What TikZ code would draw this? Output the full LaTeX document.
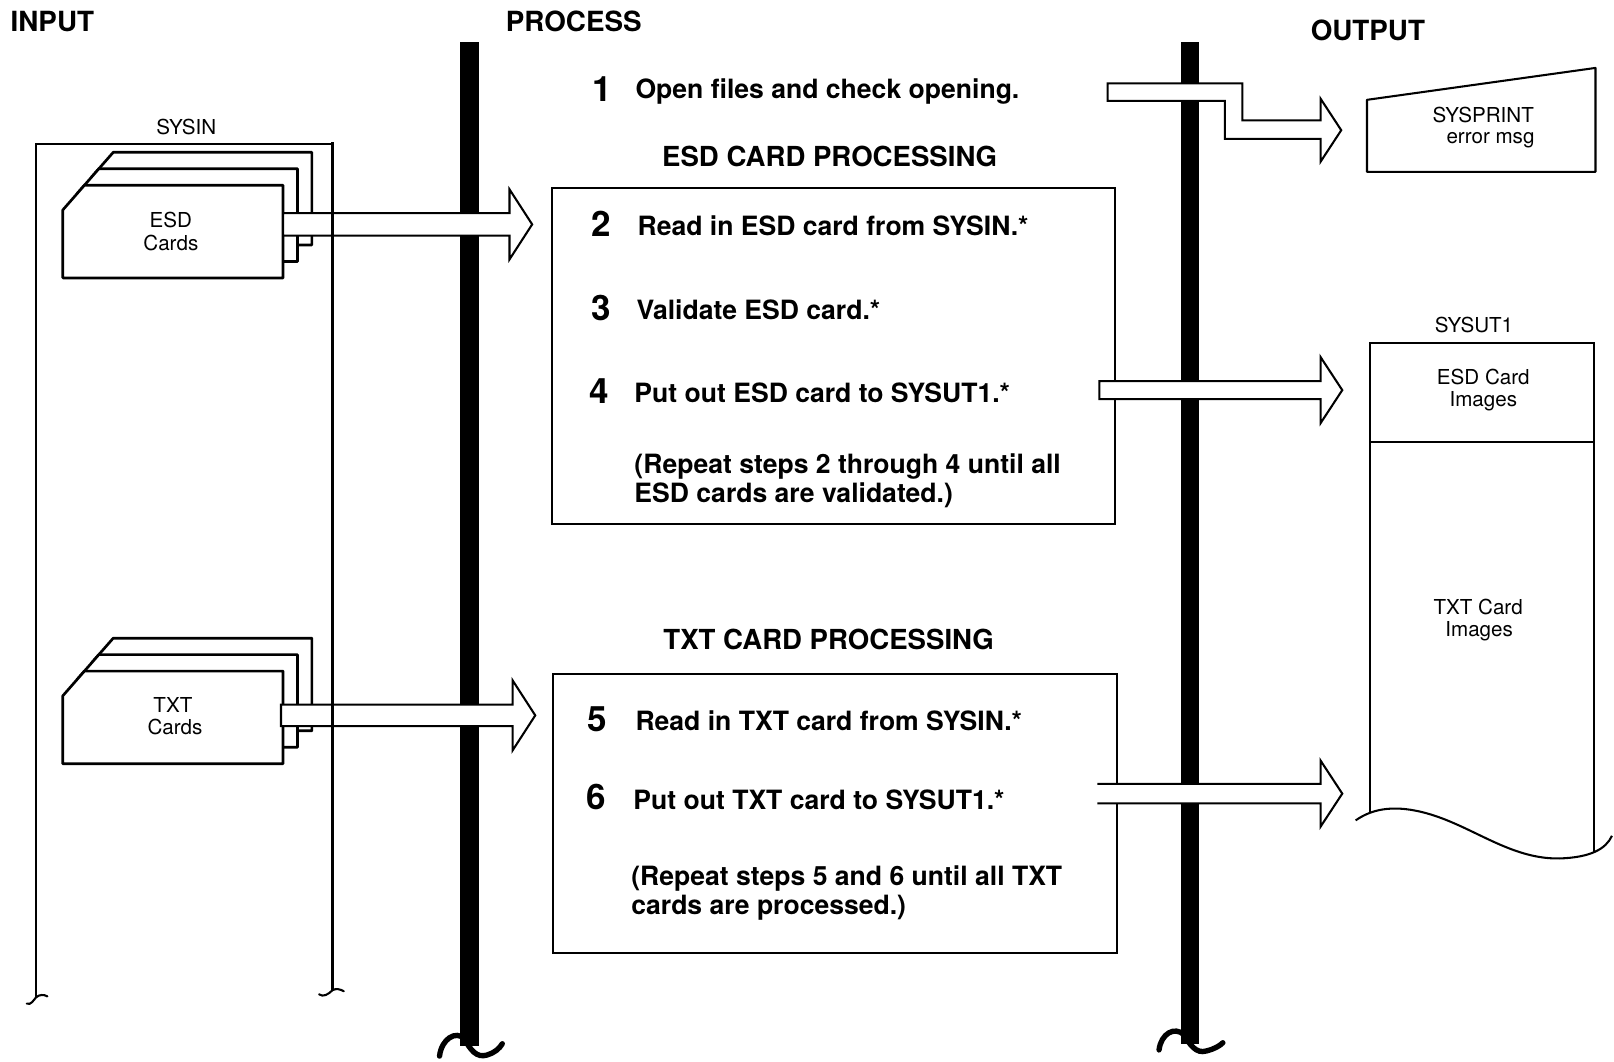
\documentclass[tikz,border=0pt]{standalone}
\usepackage{fontspec}
\setmainfont{TeX Gyre Heros}
\usetikzlibrary{calc}

% straight block arrow from a tail coordinate to a tip coordinate
% #3 body half-width, #4 head half-width, #5 head length
\newcommand\flowarrow[5]{%
  \path[flow] let \p1=(#1), \p2=(#2) in
    ({\x1},{\y2+#3}) -- ({\x2-#5},{\y2+#3}) -- ({\x2-#5},{\y2+#4}) -- (\x2,\y2)
    -- ({\x2-#5},{\y2-#4}) -- ({\x2-#5},{\y2-#3}) -- ({\x1},{\y2-#3}) -- cycle;}
% same arrow with an open tail
\newcommand\flowarrowopen[5]{%
  \fill[white] let \p1=(#1), \p2=(#2) in
    ({\x1},{\y2+#3}) -- ({\x2-#5},{\y2+#3}) -- ({\x2-#5},{\y2+#4}) -- (\x2,\y2)
    -- ({\x2-#5},{\y2-#4}) -- ({\x2-#5},{\y2-#3}) -- ({\x1},{\y2-#3}) -- cycle;
  \draw[flowline] let \p1=(#1), \p2=(#2) in
    ({\x1},{\y2+#3}) -- ({\x2-#5},{\y2+#3}) -- ({\x2-#5},{\y2+#4}) -- (\x2,\y2)
    -- ({\x2-#5},{\y2-#4}) -- ({\x2-#5},{\y2-#3}) -- ({\x1},{\y2-#3});}
% a punched card with a cut corner; #1,#2 = top-left of the card body
\newcommand\punchcard[2]{%
  \path[card] (#1,#2+24) -- (#1+21,#2) -- (#1+214,#2) -- (#1+214,#2+90)
    -- (#1,#2+90) -- cycle;}

\begin{document}
\begin{tikzpicture}[x=0.5pt,y=-0.5pt,
  thinline/.style={line width=1pt},
  bar/.style={line width=9pt},
  barend/.style={line width=2.6pt, line cap=round},
  heading/.style={font=\fontsize{13.5}{16}\selectfont\bfseries, anchor=base west, inner sep=0},
  section/.style={font=\fontsize{13.4}{16}\selectfont\bfseries, anchor=base, inner sep=0},
  steptext/.style={font=\fontsize{12.9}{15}\selectfont\bfseries, anchor=base west, inner sep=0},
  stepnum/.style={font=\fontsize{17}{20}\selectfont\bfseries, anchor=base, inner sep=0},
  lbl/.style={font=\fontsize{10}{12}\selectfont, anchor=base, inner sep=0},
  card/.style={line width=1.3pt, fill=white, draw=black, line join=round},
  flow/.style={line width=1pt, fill=white, draw=black, line join=miter},
  flowline/.style={line width=1pt, line join=miter},
]
\useasboundingbox (0,0) rectangle (1568,1031);

% column headings
\node[heading] (hin)  at (10,31)   {INPUT};
\node[heading] (hpro) at (491,31)  {PROCESS};
\node[heading] (hout) at (1273,39) {OUTPUT};

% the two heavy dividers
\draw[bar] (456,41) -- (456,1016);
\draw[barend] (427,1026) .. controls (429,1009) and (443,1001) .. (451,1009)
  .. controls (457,1020) and (463,1028) .. (473,1025)
  .. controls (480,1023) and (485,1019) .. (488,1014);
\draw[bar] (1156,41) -- (1156,1014);
\draw[barend] (1126,1020) .. controls (1128,1004) and (1141,997) .. (1150,1005)
  .. controls (1156,1015) and (1162,1024) .. (1172,1021)
  .. controls (1180,1019) and (1185,1016) .. (1188,1013);

% process boxes
\node[draw, thinline, minimum width=547*0.5pt, minimum height=326*0.5pt, anchor=north west, inner sep=0]
  (esdbox) at (535,182) {};
\node[draw, thinline, minimum width=548*0.5pt, minimum height=271*0.5pt, anchor=north west, inner sep=0]
  (txtbox) at (536,654) {};

% step 1
\node[stepnum]  (n1) at (585,99) {1};
\node[steptext] (t1) at (617,96) {Open files and check opening.};

% ESD section
\node[section] (hesd) at (806,162) {ESD CARD PROCESSING};
\node[stepnum]  (n2) at (584,230) {2};
\node[steptext] (t2) at (619,229) {Read in ESD card from SYSIN.*};
\node[stepnum]  (n3) at (584,311) {3};
\node[steptext] (t3) at (618,310) {Validate ESD card.*};
\node[stepnum]  (n4) at (582,392) {4};
\node[steptext] (t4) at (616,391) {Put out ESD card to SYSUT1.*};
\node[steptext] (r4a) at (616,460) {(Repeat steps 2 through 4 until all};
\node[steptext] (r4b) at (616,488) {ESD cards are validated.)};

% TXT section
\node[section] (htxt) at (805,631) {TXT CARD PROCESSING};
\node[stepnum]  (n5) at (580,711) {5};
\node[steptext] (t5) at (617,710) {Read in TXT card from SYSIN.*};
\node[stepnum]  (n6) at (579,786) {6};
\node[steptext] (t6) at (615,786) {Put out TXT card to SYSUT1.*};
\node[steptext] (r6a) at (613,860) {(Repeat steps 5 and 6 until all TXT};
\node[steptext] (r6b) at (613,888) {cards are processed.)};

% card decks
\punchcard{89}{148}
\punchcard{75}{164}
\punchcard{61}{180}
\node[lbl] (esdc1) at (166,221) {ESD};
\node[lbl] (esdc2) at (166,243) {Cards};
\punchcard{89}{620}
\punchcard{75}{636}
\punchcard{61}{652}
\node[lbl] (txtc1) at (168,692) {TXT};
\node[lbl] (txtc2) at (170,714) {Cards};

% output data sets
\draw[thinline, line join=round] (1328,97) -- (1550,66) -- (1550,167) -- (1328,167) -- cycle;
\node[lbl] (sp1) at (1441,119) {SYSPRINT};
\node[lbl] (sp2) at (1448,139) {error msg};

\node[lbl] (ut) at (1432,323) {SYSUT1};
\draw[thinline] (1331,790) -- (1331,333) -- (1549,333) -- (1549,829);
\draw[thinline] (1331,429) -- (1549,429);
\draw[thinline] (1317,797) .. controls (1330,788) and (1345,784) .. (1365,786)
  .. controls (1420,792) and (1460,835) .. (1515,834)
  .. controls (1545,833) and (1560,825) .. (1566,812);
\node[lbl] (ut1) at (1441,374) {ESD Card};
\node[lbl] (ut2) at (1441,395) {Images};
\node[lbl] (ut3) at (1436,597) {TXT Card};
\node[lbl] (ut4) at (1437,618) {Images};

% arrow anchors
\coordinate (esdin)  at (275,218);
\coordinate (esdtip) at (517,218);
\coordinate (txtin)  at (273,695);
\coordinate (txttip) at (520,695);
\coordinate (esdout) at (1068,379);
\coordinate (esdotip) at (1304,379);
\coordinate (txtout) at (1066,771);
\coordinate (txtotip) at (1304,771);

% data flow arrows
\flowarrow{esdin}{esdtip}{5.5pt}{17pt}{11pt}
\flowarrow{txtin}{txttip}{5.25pt}{17pt}{11pt}
\flowarrow{esdout}{esdotip}{4.4pt}{16pt}{10.5pt}
\flowarrowopen{txtout}{txtotip}{4.75pt}{16pt}{10.5pt}
\path[flow] (1076,81) -- (1207,81) -- (1207,117) -- (1283,117) -- (1283,96)
  -- (1303,126.5) -- (1283,157) -- (1283,135) -- (1190,135) -- (1190,98)
  -- (1076,98) -- cycle;

% SYSIN data set frame
\node[lbl] (sysin) at (181,131) {SYSIN};
\draw[thinline] (35,969) -- (35,140) -- (323,140);
\draw[thinline] (323,138) -- (323,962);
\draw[thinline, line cap=round] (26,975) .. controls (30,977) and (33,971) .. (35,969)
  .. controls (38,966) and (43,966) .. (46,968);
\draw[thinline, line cap=round] (310,966) .. controls (314,969) and (319,966) .. (323,962)
  .. controls (326,960) and (331,961) .. (334,963);
\end{tikzpicture}
\end{document}
